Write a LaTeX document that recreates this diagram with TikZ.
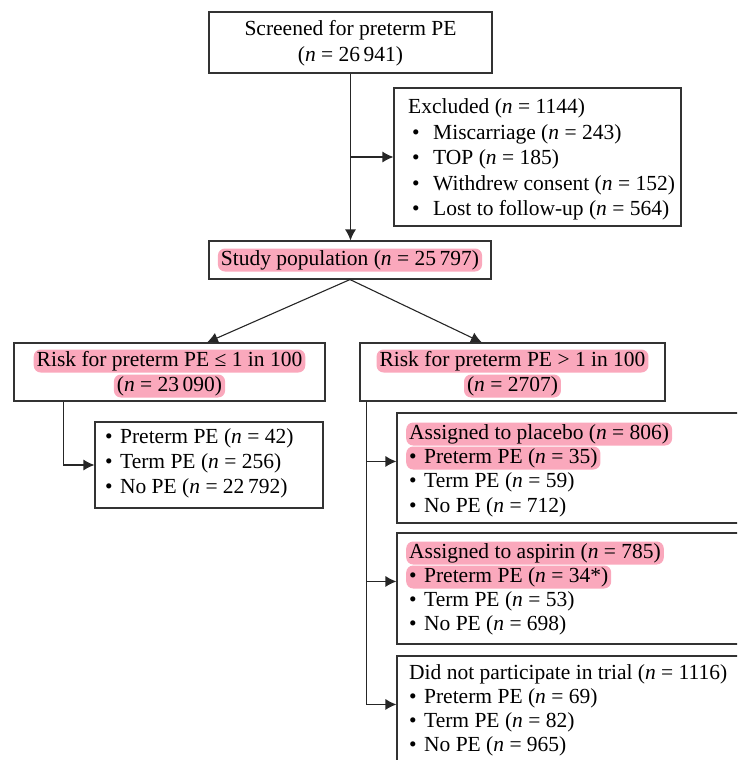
\documentclass[tikz,border=0pt]{standalone}
\usepackage{fontspec}
\setmainfont{Liberation Serif}
\usetikzlibrary{arrows.meta,calc}
\definecolor{hlpink}{RGB}{250,168,188}
\newcommand\bdot{\textbullet\hspace{2pt}}
\newcommand\bul{\makebox[25pt][l]{\hspace{4pt}\textbullet}}
\newcommand\nn{\textit{n}}
\begin{document}
\begin{tikzpicture}[x=1pt,y=-1pt,
  box/.style={draw=black!80, line width=1.1pt, rectangle, inner sep=0pt},
  txt/.style={inner sep=0pt, font=\fontsize{21.5}{25.5}\selectfont},
  hl/.style={fill=hlpink, rounded corners=7pt, inner xsep=3pt, inner ysep=1.5pt, text height=15pt, text depth=5pt},
  hlw/.style={hl, xshift=-3pt},
  arr/.style={draw=black!85, line width=1.1pt, -{Latex[length=11pt,width=11pt]}},
  ln/.style={draw=black!85, line width=1.1pt}]
\useasboundingbox (0,0) rectangle (737,760);
\clip (0,0) rectangle (737,760);
% boxes
\node[box, minimum width=283pt, minimum height=61pt] (screen) at (350.5,42.5) {};
\node[box, minimum width=287pt, minimum height=138pt] (excl) at (537.5,157) {};
\node[box, minimum width=282pt, minimum height=38pt] (study) at (350,260) {};
\node[box, minimum width=311pt, minimum height=58pt] (low) at (169.5,372) {};
\node[box, minimum width=305pt, minimum height=58pt] (high) at (512.5,372) {};
\node[box, minimum width=228pt, minimum height=86pt] (lowres) at (209,465) {};
\node[box, minimum width=363pt, minimum height=110pt] (placebo) at (578.5,468) {};
\node[box, minimum width=363pt, minimum height=111pt] (aspirin) at (578.5,588.5) {};
\node[box, minimum width=363pt, minimum height=134pt] (dnp) at (578.5,723) {};
% texts: screened
\node[txt, anchor=base] (s1) at (350.5,36) {Screened for preterm PE};
\node[txt, anchor=base] (s2) at (350.5,62) {(\nn\ = 26\,941)};
% excluded
\node[txt, anchor=base west] (e1) at (408,113) {Excluded (\nn\ = 1144)};
\node[txt, anchor=base west] (e2) at (408,139) {\bul Miscarriage (\nn\ = 243)};
\node[txt, anchor=base west] (e3) at (408,164) {\bul TOP (\nn\ = 185)};
\node[txt, anchor=base west] (e4) at (408,190) {\bul Withdrew consent (\nn\ = 152)};
\node[txt, anchor=base west] (e5) at (408,215) {\bul Lost to follow-up (\nn\ = 564)};
% study
\node[txt, hl, anchor=base] (p1) at (350,265) {Study population (\nn\ = 25\,797)};
% low risk
\node[txt, hl, anchor=base] (l1) at (169.5,366) {Risk for preterm PE ≤ 1 in 100};
\node[txt, hl, anchor=base] (l2) at (169.5,391) {(\nn\ = 23\,090)};
% high risk
\node[txt, hl, anchor=base] (h1) at (512.5,366) {Risk for preterm PE > 1 in 100};
\node[txt, hl, anchor=base] (h2) at (512.5,391) {(\nn\ = 2707)};
% low results
\node[txt, anchor=base west] (r1) at (105,443) {\bdot\ Preterm PE (\nn\ = 42)};
\node[txt, anchor=base west] (r2) at (105,468) {\bdot\ Term PE (\nn\ = 256)};
\node[txt, anchor=base west] (r3) at (105,493) {\bdot\ No PE (\nn\ = 22\,792)};
% placebo
\node[txt, hlw, anchor=base west] (a1) at (409,439) {Assigned to placebo (\nn\ = 806)};
\node[txt, hlw, anchor=base west] (a2) at (409,463) {\bdot\ Preterm PE (\nn\ = 35)};
\node[txt, anchor=base west] (a3) at (409,487) {\bdot\ Term PE (\nn\ = 59)};
\node[txt, anchor=base west] (a4) at (409,512) {\bdot\ No PE (\nn\ = 712)};
% aspirin
\node[txt, hlw, anchor=base west] (b1) at (409,558) {Assigned to aspirin (\nn\ = 785)};
\node[txt, hlw, anchor=base west] (b2) at (409,582) {\bdot\ Preterm PE (\nn\ = 34*)};
\node[txt, anchor=base west] (b3) at (409,606) {\bdot\ Term PE (\nn\ = 53)};
\node[txt, anchor=base west] (b4) at (409,630) {\bdot\ No PE (\nn\ = 698)};
% did not participate
\node[txt, anchor=base west] (c1) at (409,679) {Did not participate in trial (\nn\ = 1116)};
\node[txt, anchor=base west] (c2) at (409,703) {\bdot\ Preterm PE (\nn\ = 69)};
\node[txt, anchor=base west] (c3) at (409,727) {\bdot\ Term PE (\nn\ = 82)};
\node[txt, anchor=base west] (c4) at (409,751) {\bdot\ No PE (\nn\ = 965)};
% connectors
\draw[arr] (screen.south) -- (screen.south |- study.north);
\draw[arr] (screen.south |- excl.west) -- (excl.west);
\draw[arr] (study.south) -- ($(low.north west)!0.62!(low.north east)$);
\draw[arr] (study.south) -- ($(high.north west)!0.4!(high.north east)$);
\draw[arr] ($(low.south west)+(50,0)$) |- (lowres.west);
\coordinate (trunk) at ($(high.south west)+(7,0)$);
\draw[arr] (trunk) |- ($(placebo.north west)+(0,49)$);
\draw[arr] (trunk) |- ($(aspirin.north west)+(0,49)$);
\draw[arr] (trunk) |- ($(dnp.north west)+(0,49)$);
\end{tikzpicture}
\end{document}
